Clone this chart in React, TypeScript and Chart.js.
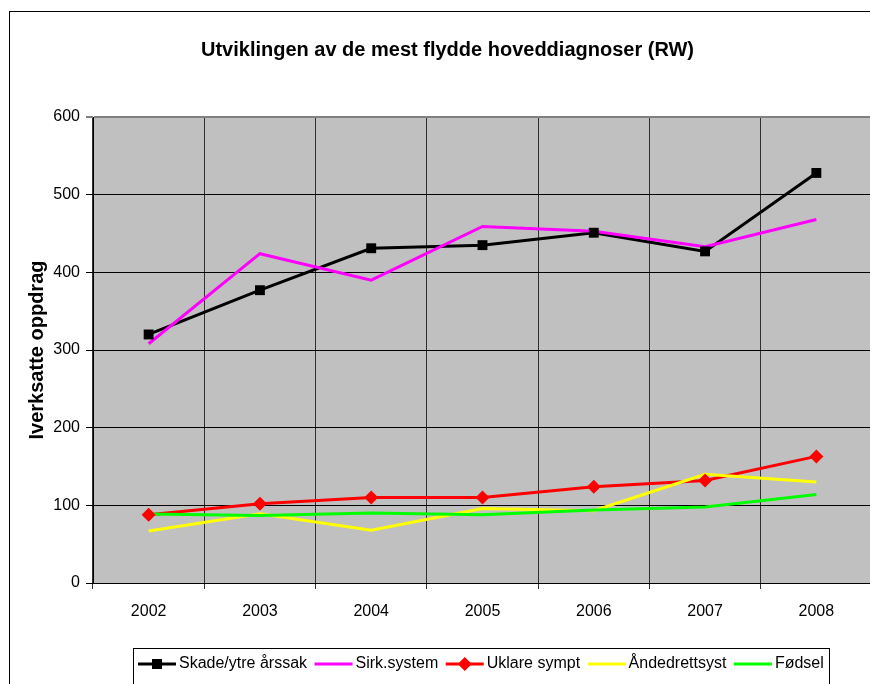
import React, { useEffect, useRef } from "react";
import { Chart, registerables } from "chart.js";

Chart.register(...registerables);

const categories = ["2002", "2003", "2004", "2005", "2006", "2007", "2008"];
const skade = [320, 377, 431, 435, 451, 427, 528];
const sirk = [308, 424, 390, 459, 453, 433, 468];
const uklare = [88, 102, 110, 110, 124, 132, 163];
const andedrett = [67, 89, 68, 96, 93, 140, 130];
const fodsel = [89, 87, 90, 88, 94, 98, 114];

const seriesNames = ["Skade/ytre årssak", "Sirk.system", "Uklare sympt", "Åndedrettsyst", "Fødsel"];
const seriesColors = ["#000000", "#FF00FF", "#FF0000", "#FFFF00", "#00FF00"];
const seriesMarkers = ["rect", "none", "rectRot", "none", "none"];
const yTicks = [0, 100, 200, 300, 400, 500, 600];

const titleText = "Utviklingen av de mest flydde hoveddiagnoser (RW)";
const yTitle = "Iverksatte oppdrag";

const SANS = '"Liberation Sans", Arial, sans-serif';

const CANVAS_W = 900;
const CANVAS_H = 720;
const FRAME = { x: 9, y: 11, w: 877, h: 800 };

function drawMarker(ctx: CanvasRenderingContext2D, kind: string, x: number, y: number, color: string) {
  ctx.fillStyle = color;
  if (kind === "rect") {
    ctx.fillRect(x - 5, y - 5, 10, 10);
  } else if (kind === "rectRot") {
    ctx.beginPath();
    ctx.moveTo(x, y - 7);
    ctx.lineTo(x + 7, y);
    ctx.lineTo(x, y + 7);
    ctx.lineTo(x - 7, y);
    ctx.closePath();
    ctx.fill();
  }
}

const decorPlugin = {
  id: "decor",
  beforeDraw(chart: any) {
    const { ctx, chartArea } = chart;
    ctx.save();
    ctx.fillStyle = "#FFFFFF";
    ctx.fillRect(0, 0, chart.width, chart.height);
    ctx.fillStyle = "#C0C0C0";
    ctx.fillRect(chartArea.left, chartArea.top, chartArea.right - chartArea.left, chartArea.bottom - chartArea.top);
    ctx.restore();
  },
  afterDraw(chart: any) {
    const { ctx } = chart;
    ctx.save();
    // outer frame
    ctx.strokeStyle = "#000000";
    ctx.lineWidth = 1;
    ctx.strokeRect(FRAME.x + 0.5, FRAME.y + 0.5, FRAME.w, FRAME.h);
    // title
    ctx.fillStyle = "#000000";
    ctx.font = `bold 20px ${SANS}`;
    ctx.textAlign = "center";
    ctx.textBaseline = "middle";
    ctx.fillText(titleText, FRAME.x + FRAME.w / 2, 50);
    // legend
    ctx.font = `16px ${SANS}`;
    ctx.textAlign = "left";
    const lineLen = 38;
    const gapText = 3;
    const gapItem = 7.5;
    const padL = 5;
    const padR = 5;
    let total = padL;
    const widths = seriesNames.map((n) => ctx.measureText(n).width);
    widths.forEach((w, i) => {
      total += lineLen + gapText + w + (i < widths.length - 1 ? gapItem : padR);
    });
    const boxLeft = 133;
    const boxTop = 648;
    ctx.fillStyle = "#FFFFFF";
    ctx.fillRect(boxLeft, boxTop, total, 60);
    ctx.strokeStyle = "#000000";
    ctx.lineWidth = 1;
    ctx.strokeRect(boxLeft + 0.5, boxTop + 0.5, Math.round(total), 60);
    const cy = 664;
    let x = boxLeft + padL;
    seriesNames.forEach((n, i) => {
      ctx.strokeStyle = seriesColors[i];
      ctx.lineWidth = 3;
      ctx.beginPath();
      ctx.moveTo(x, cy);
      ctx.lineTo(x + lineLen, cy);
      ctx.stroke();
      drawMarker(ctx, seriesMarkers[i], x + lineLen / 2, cy, seriesColors[i]);
      ctx.fillStyle = "#000000";
      ctx.fillText(n, x + lineLen + gapText, cy);
      x += lineLen + gapText + widths[i] + gapItem;
    });
    ctx.restore();
  },
};

export default function App() {
  const ref = useRef<HTMLCanvasElement | null>(null);

  useEffect(() => {
    if (!ref.current) return;
    const values = [skade, sirk, uklare, andedrett, fodsel];
    const lineSets = values.map((v, i) => ({
      label: seriesNames[i],
      data: v,
      borderColor: seriesColors[i],
      backgroundColor: seriesColors[i],
      borderWidth: 3,
      pointRadius: 0,
      tension: 0,
      order: 10 - i,
    }));
    const markerSets = values
      .map((v, i) => ({ v, i }))
      .filter(({ i }) => seriesMarkers[i] !== "none")
      .map(({ v, i }) => ({
        label: seriesNames[i] + " markers",
        data: v,
        showLine: false,
        borderColor: seriesColors[i],
        backgroundColor: seriesColors[i],
        borderWidth: 0,
        pointStyle: seriesMarkers[i],
        pointRadius: 7,
        order: 0,
      }));

    const chart = new Chart(ref.current, {
      type: "line",
      data: { labels: categories, datasets: [...lineSets, ...markerSets] as any },
      plugins: [decorPlugin],
      options: {
        animation: false,
        responsive: false,
        layout: { padding: { top: 117, left: 0, right: CANVAS_W - 872, bottom: 97 } },
        plugins: { legend: { display: false }, title: { display: false }, tooltip: { enabled: false } },
        scales: {
          x: {
            type: "category",
            offset: true,
            grid: { offset: true, color: "#303030", lineWidth: 1, drawTicks: true, tickLength: 6 },
            border: { display: true, color: "#000000", width: 1 },
            ticks: { color: "#000000", font: { family: SANS, size: 16 }, padding: 13, maxRotation: 0, autoSkip: false },
            afterFit: (s: any) => { s.height = 40; },
          },
          y: {
            min: 0,
            max: 600,
            afterBuildTicks: (s: any) => { s.ticks = yTicks.map((v) => ({ value: v })); },
            grid: {
              color: (c: any) => (c.tick && c.tick.value === 600 ? "#808080" : "#000000"),
              lineWidth: (c: any) => (c.tick && c.tick.value === 600 ? 2 : 1),
              drawTicks: true,
              tickLength: 7,
            },
            border: { display: true, color: "#000000", width: 1 },
            ticks: { color: "#000000", font: { family: SANS, size: 16 }, padding: 6 },
            title: { display: true, text: yTitle, color: "#000000", font: { family: SANS, size: 20, weight: "bold" }, padding: { top: 25, bottom: 0 } },
            afterFit: (s: any) => { s.width = 93; },
          },
        },
      } as any,
    });
    return () => chart.destroy();
  }, []);

  return (
    <div style={{ position: "absolute", left: 0, top: 0, width: 870, height: 684, overflow: "hidden", background: "#fff" }}>
      <canvas ref={ref} width={CANVAS_W} height={CANVAS_H} style={{ width: CANVAS_W, height: CANVAS_H, display: "block" }} />
    </div>
  );
}
